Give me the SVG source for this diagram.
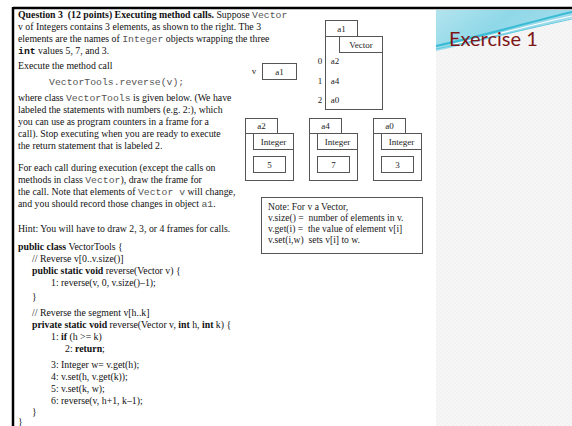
<svg xmlns="http://www.w3.org/2000/svg" width="572" height="426" viewBox="0 0 572 426">
<defs>
<style>
.t{font-family:"Liberation Serif","Times New Roman",serif;font-size:9.8px;fill:#111}
.b{font-weight:bold}
.m{font-family:"Liberation Mono","Courier New",monospace;fill:#555}
.box{fill:#fff;stroke:#555;stroke-width:1}
.d{font-family:"Liberation Serif","Times New Roman",serif;font-size:9px;fill:#222;text-anchor:middle}
.n{font-family:"Liberation Serif","Times New Roman",serif;font-size:9.6px;fill:#222;white-space:pre}
</style>
<pattern id="dots" width="4" height="4" patternUnits="userSpaceOnUse">
<rect width="4" height="4" fill="#f6f6f6"/>
<circle cx="1" cy="1" r="0.7" fill="#ececec"/>
<circle cx="3" cy="3" r="0.7" fill="#efefef"/>
</pattern>
<linearGradient id="teal" x1="0" y1="0" x2="1" y2="0.4">
<stop offset="0" stop-color="#b3e4ee"/>
<stop offset="0.5" stop-color="#8fd8e8"/>
<stop offset="1" stop-color="#a6dcec"/>
</linearGradient>
</defs>
<rect width="572" height="426" fill="#fff"/>
<!-- right panel -->
<rect x="436" y="10" width="136" height="416" fill="url(#dots)"/>
<path d="M436,10 H572 V18 C540,26 495,38 436,51 Z" fill="url(#teal)"/>
<path d="M436,46 C490,34 530,22 572,12" fill="none" stroke="#39bcd4" stroke-width="2"/>
<path d="M450,45 C500,34 535,24 572,16" fill="none" stroke="#ffffff" stroke-width="1.2"/>
<path d="M436,49 C495,37 535,27 572,19" fill="none" stroke="#5ecbe0" stroke-width="1"/>
<text x="449" y="46" style="font-family:Lato,'Open Sans',sans-serif;font-size:20px;fill:#7e1818">Exercise 1</text>
<!-- frame border -->
<line x1="13" y1="8" x2="572" y2="8" stroke="#000" stroke-width="2.5"/>
<line x1="13" y1="7" x2="13" y2="426" stroke="#000" stroke-width="2.5"/>
<!-- question text -->
<g id="question" class="t">
<text x="18" y="18" xml:space="preserve"><tspan class="b">Question 3  (12 points) Executing method calls.</tspan> Suppose <tspan class="m">Vector</tspan></text>
<text x="18" y="30">v of Integers contains 3 elements, as shown to the right. The 3</text>
<text x="18" y="42">elements are the names of <tspan class="m">Integer</tspan> objects wrapping the three</text>
<text x="18" y="54"><tspan class="m" style="font-weight:bold;fill:#111">int</tspan> values 5, 7, and 3.</text>
<text x="18" y="69">Execute the method call</text>
<text x="49" y="85" class="m">VectorTools.reverse(v);</text>
<text x="18" y="101">where class <tspan class="m">VectorTools</tspan> is given below. (We have</text>
<text x="18" y="113">labeled the statements with numbers (e.g. 2:), which</text>
<text x="18" y="125">you can use as program counters in a frame for a</text>
<text x="18" y="137">call). Stop executing when you are ready to execute</text>
<text x="18" y="149">the return statement that is labeled 2.</text>
<text x="18" y="171">For each call during execution (except the calls on</text>
<text x="18" y="183">methods in class <tspan class="m">Vector</tspan>), draw the frame for</text>
<text x="18" y="195">the call. Note that elements of <tspan class="m">Vector v</tspan> will change,</text>
<text x="18" y="207">and you should record those changes in object <tspan class="m">a1</tspan>.</text>
<text x="18" y="232">Hint: You will have to draw 2, 3, or 4 frames for calls.</text>
</g>
<g id="code" class="t">
<text x="18" y="250"><tspan class="b">public class</tspan> VectorTools {</text>
<text x="32" y="262">// Reverse v[0..v.size()]</text>
<text x="32" y="274"><tspan class="b">public static void</tspan> reverse(Vector v) {</text>
<text x="51" y="286">1: reverse(v, 0, v.size()–1);</text>
<text x="32" y="300">}</text>
<text x="32" y="316">// Reverse the segment v[h..k]</text>
<text x="32" y="328"><tspan class="b">private static void</tspan> reverse(Vector v, <tspan class="b">int</tspan> h, <tspan class="b">int</tspan> k) {</text>
<text x="51" y="340">1: <tspan class="b">if</tspan> (h &gt;= k)</text>
<text x="65" y="352">2: <tspan class="b">return</tspan>;</text>
<text x="51" y="368">3: Integer w= v.get(h);</text>
<text x="51" y="380">4: v.set(h, v.get(k));</text>
<text x="51" y="392">5: v.set(k, w);</text>
<text x="51" y="404">6: reverse(v, h+1, k–1);</text>
<text x="32" y="415">}</text>
<text x="18" y="425">}</text>
</g>
<!-- variable v -->
<g id="var-v">
<text x="254" y="74" class="d">v</text>
<rect class="box" x="262.5" y="63.5" width="34" height="16"/>
<text x="279.5" y="74.5" class="d">a1</text>
</g>
<!-- object a1 -->
<g id="obj-a1">
<rect class="box" x="325.5" y="20.5" width="32" height="16"/>
<text x="341.5" y="31.5" class="d">a1</text>
<rect class="box" x="325.5" y="36.5" width="57" height="73"/>
<rect class="box" x="339.5" y="36.5" width="43" height="16"/>
<text x="361" y="47.5" class="d">Vector</text>
<text x="320" y="64" class="d">0</text>
<text x="320" y="84" class="d">1</text>
<text x="320" y="103" class="d">2</text>
<text x="335" y="64" class="d">a2</text>
<text x="335" y="84" class="d">a4</text>
<text x="335" y="103" class="d">a0</text>
</g>
<!-- Integer objects -->
<g id="obj-a2">
<rect class="box" x="245.5" y="118.5" width="32" height="15"/>
<text x="261.5" y="129" class="d">a2</text>
<rect class="box" x="245.5" y="133.5" width="48" height="47"/>
<rect class="box" x="253.5" y="133.5" width="40" height="16"/>
<text x="273.5" y="144.5" class="d">Integer</text>
<rect class="box" x="253.5" y="156.5" width="32" height="16"/>
<text x="269.5" y="167.5" class="d">5</text>
</g>
<g id="obj-a4">
<rect class="box" x="309.5" y="118.5" width="32" height="15"/>
<text x="325.5" y="129" class="d">a4</text>
<rect class="box" x="309.5" y="133.5" width="48" height="47"/>
<rect class="box" x="317.5" y="133.5" width="40" height="16"/>
<text x="337.5" y="144.5" class="d">Integer</text>
<rect class="box" x="317.5" y="156.5" width="32" height="16"/>
<text x="333.5" y="167.5" class="d">7</text>
</g>
<g id="obj-a0">
<rect class="box" x="373.5" y="118.5" width="32" height="15"/>
<text x="389.5" y="129" class="d">a0</text>
<rect class="box" x="373.5" y="133.5" width="48" height="47"/>
<rect class="box" x="381.5" y="133.5" width="40" height="16"/>
<text x="401.5" y="144.5" class="d">Integer</text>
<rect class="box" x="381.5" y="156.5" width="32" height="16"/>
<text x="397.5" y="167.5" class="d">3</text>
</g>
<!-- note -->
<g id="note">
<rect class="box" x="261.5" y="197.5" width="161" height="56"/>
<text x="268" y="210" class="n" xml:space="preserve">Note: For v a Vector,</text>
<text x="268" y="221" class="n" xml:space="preserve">v.size() =  number of elements in v.</text>
<text x="268" y="232" class="n" xml:space="preserve">v.get(i) =  the value of element v[i]</text>
<text x="268" y="243" class="n" xml:space="preserve">v.set(i,w)  sets v[i] to w.</text>
</g>
<g id="connectors"/>
</svg>
